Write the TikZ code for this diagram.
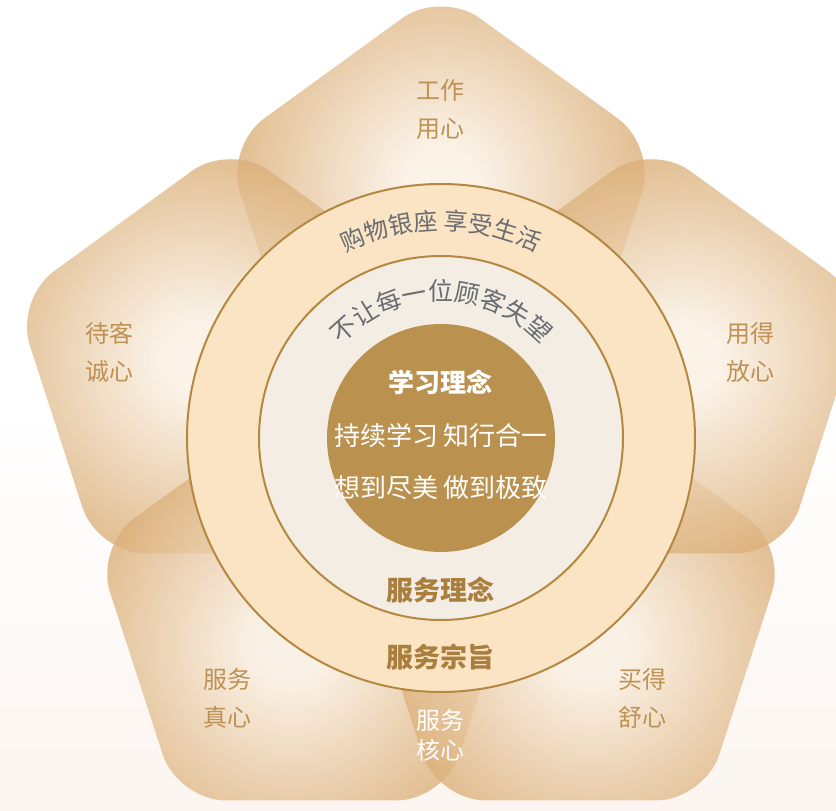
\documentclass[tikz,border=0pt]{standalone}
\usepackage{fontspec}
\setmainfont{Noto Sans CJK SC}
\usepackage{xcolor}
\usepackage{tikz}
\usetikzlibrary{decorations.text}

\definecolor{petalin}{RGB}{250,240,226}
\definecolor{petalout}{RGB}{214,164,102}
\definecolor{ringout}{RGB}{251,228,196}
\definecolor{ringmid}{RGB}{243,237,227}
\definecolor{core}{RGB}{186,145,79}
\definecolor{rim}{RGB}{181,136,66}
\definecolor{label}{RGB}{190,145,84}
\definecolor{motto}{RGB}{105,109,114}
\definecolor{title}{RGB}{170,127,62}
\definecolor{bgpink}{RGB}{252,245,241}

\pgfdeclareradialshading{petalglow}{\pgfpoint{0bp}{0bp}}{color(0bp)=(petalin); color(2bp)=(petalin); color(13bp)=(petalout); color(50bp)=(petalout)}

\begin{document}
\begin{tikzpicture}[x=1pt, y=1pt,
  ring/.style={circle, draw=rim, line width=2pt, inner sep=0pt},
  petaltext/.style={text=label, font=\fontsize{24pt}{38pt}\selectfont, align=center},
  coretext/.style={text=white, font=\fontsize{26pt}{26pt}\selectfont},
  titletext/.style={text=title, font=\fontsize{27pt}{27pt}\selectfont\bfseries}]

  \useasboundingbox (-441,-373) rectangle (395,438);
  \fill[white] (-441,-373) rectangle (395,438);
  \shade[top color=white, bottom color=bgpink] (-441,-373) rectangle (395,40);
  \clip (-441,-373) rectangle (395,438);

  % petals
  \foreach \a in {90,162,234,306,18}{
    \begin{scope}
      \clip[shift={(\a:221)}, rounded corners=48pt] (126:183.6) -- (162:227) -- (234:227) -- (306:227) -- (18:227) -- (90:227) -- cycle;
      \shade[shading=petalglow, opacity=0.8] (\a:255) circle (450);
    \end{scope}
  }

  % rings
  \node[ring, fill=ringout, minimum size=508] (outer) at (0,0) {};
  \node[ring, fill=ringmid, minimum size=364] (middle) at (0,0) {};
  \node[circle, fill=core, inner sep=0pt, minimum size=228] (inner) at (0,0) {};

  % curved mottos
  \path[decorate, decoration={text along path, text align=center, text color=motto,
      text={|\fontsize{24pt}{24pt}\selectfont|购物银座 享受生活}}]
    (160:208) arc[start angle=160, end angle=20, radius=208];
  \path[decorate, decoration={text along path, text align=center, text color=motto,
      text={|\fontsize{25pt}{25pt}\selectfont|不让每一位顾客失望}}]
    (165:137) arc[start angle=165, end angle=15, radius=137];

  % centre
  \node[coretext, font=\fontsize{26pt}{26pt}\selectfont\bfseries] (learn) at (0,56) {学习理念};
  \node[coretext] (learn1) at (0,2) {持续学习 知行合一};
  \node[coretext] (learn2) at (0,-50) {想到尽美 做到极致};
  \node[titletext] (idea) at (0,-152) {服务理念};
  \node[titletext] (aim) at (0,-219) {服务宗旨};

  % petal labels
  \node[petaltext] (work) at (0,329) {工作\\用心};
  \node[petaltext] (host) at (-331,86) {待客\\诚心};
  \node[petaltext] (trust) at (309,86) {用得\\放心};
  \node[petaltext] (sincere) at (-213,-260) {服务\\真心};
  \node[petaltext] (buy) at (202,-260) {买得\\舒心};
  \node[petaltext, text=white, font=\fontsize{24pt}{30pt}\selectfont] (hub) at (0,-297) {服务\\核心};
\end{tikzpicture}
\end{document}
